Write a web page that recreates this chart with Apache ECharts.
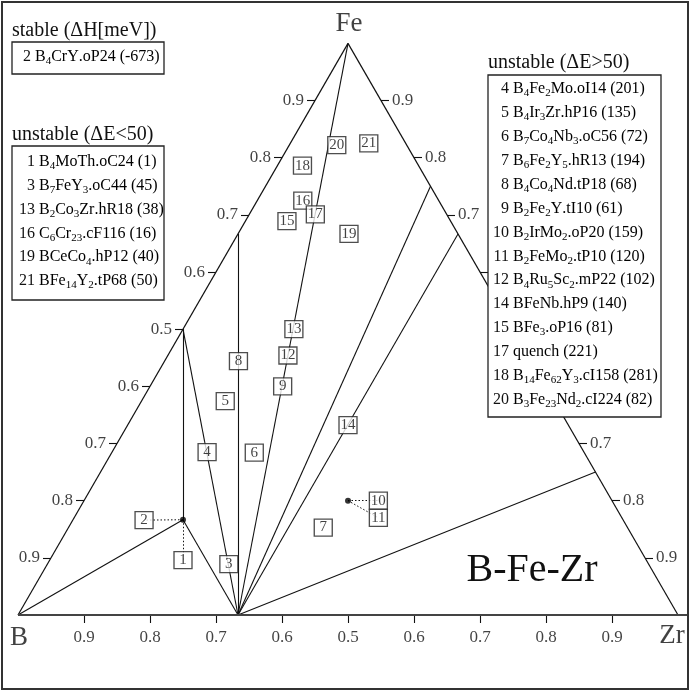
<!DOCTYPE html>
<html><head><meta charset="utf-8">
<script src="https://cdn.jsdelivr.net/npm/echarts@6/dist/echarts.min.js"></script>
<style>html,body{margin:0;padding:0;background:#fff}#c{width:692px;height:692px}</style>
</head><body><div id="c"></div>
<script>
const FONT = '"Liberation Serif","Times New Roman",serif';

// ---- data: compositions as [x_Fe, x_Zr] (x_B = rest) ----
const compoundNames = ['B','Fe','Zr','ZrB2','FeB','Fe2B','B4FeZr','Fe3Zr','Fe2Zr','FeZr3','B2FeZr2'];
const compoundFe    = [0, 1, 0, 0, 0.5, 2/3, 1/6, 0.75, 2/3, 0.25, 0.2];
const compoundZr    = [0, 0, 1, 1/3, 0, 0, 1/6, 0.25, 1/3, 0.75, 0.4];

const tieLines = [['B','B4FeZr'],['B4FeZr','ZrB2'],['B4FeZr','FeB'],['FeB','ZrB2'],['Fe2B','ZrB2'],
                  ['Fe','ZrB2'],['Fe3Zr','ZrB2'],['Fe2Zr','ZrB2'],['FeZr3','ZrB2']];
const edges = [['B','Fe'],['Fe','Zr'],['B','Zr']];
const dots = ['B4FeZr','B2FeZr2'];

// numbered label boxes (positions as compositions)
const boxIds = [1,2,3,4,5,6,7,8,9,10,11,12,13,14,15,16,17,18,19,20,21];
const boxFe  = [0.096,0.166,0.089,0.285,0.374,0.284,0.153,0.444,0.400,0.200,0.170,0.454,0.500,0.332,0.689,0.725,0.701,0.786,0.667,0.822,0.825];
const boxZr  = [0.202,0.108,0.275,0.144,0.127,0.216,0.386,0.112,0.201,0.446,0.461,0.182,0.168,0.334,0.063,0.069,0.100,0.038,0.168,0.072,0.119];
const leaders = [['B4FeZr',2],['B4FeZr',1],['B2FeZr2',10],['B2FeZr2',11]];

const edgeFractions = [0.1,0.2,0.3,0.4,0.5,0.6,0.7,0.8,0.9];
const tickLabels = ['0.9','0.8','0.7','0.6','0.5','0.6','0.7','0.8','0.9'];

const stableTitle = 'stable (ΔH[meV])';
const stableEntries = [['2','B4CrY.oP24','-673']];
const lowTitle = 'unstable (ΔE<50)';
const lowEntries = [['1','B4MoTh.oC24','1'],['3','B7FeY3.oC44','45'],['13','B2Co3Zr.hR18','38'],
  ['16','C6Cr23.cF116','16'],['19','BCeCo4.hP12','40'],['21','BFe14Y2.tP68','50']];
const highTitle = 'unstable (ΔE>50)';
const highEntries = [['4','B4Fe2Mo.oI14','201'],['5','B4Ir3Zr.hP16','135'],['6','B7Co4Nb3.oC56','72'],
  ['7','B6Fe2Y5.hR13','194'],['8','B4Co4Nd.tP18','68'],['9','B2Fe2Y.tI10','61'],['10','B2IrMo2.oP20','159'],
  ['11','B2FeMo2.tP10','120'],['12','B4Ru5Sc2.mP22','102'],['14','BFeNb.hP9','140'],['15','BFe3.oP16','81'],
  ['17','quench','221'],['18','B14Fe62Y3.cI158','281'],['20','B3Fe23Nd2.cI224','82']];

// ---- geometry helpers ----
const S3 = Math.sqrt(3)/2;
const PX = 1/660;
function xy(fe, zr){ return [zr + fe/2, fe*S3]; }
function comp(name){ const i = compoundNames.indexOf(name); return xy(compoundFe[i], compoundZr[i]); }
function boxPos(id){ const i = boxIds.indexOf(id); return xy(boxFe[i], boxZr[i]); }

const edgeData = edges.map(e => ({coords:[comp(e[0]), comp(e[1])]}));
const tieData = tieLines.map(e => ({coords:[comp(e[0]), comp(e[1])]}));
const leaderData = leaders.map(l => ({coords:[comp(l[0]), boxPos(l[1])]}));

const tickData = [], tickLabelData = [];
edgeFractions.forEach((f,i) => {
  const b = xy(0,f), be = [b[0], b[1]-8*PX];
  tickData.push({coords:[b,be]});
  tickLabelData.push({name:tickLabels[i], value:be, label:{position:'bottom', distance:6}});
  const l = xy(f,0), le = [l[0]-8*PX, l[1]];
  tickData.push({coords:[l,le]});
  tickLabelData.push({name:tickLabels[i], value:le, label:{position:'left', distance:3}});
  const r = xy(f,1-f), re = [r[0]+8*PX, r[1]];
  tickData.push({coords:[r,re]});
  tickLabelData.push({name:tickLabels[i], value:re, label:{position:'right', distance:3}});
});

const vertexData = [
  {name:'B', value:comp('B'), label:{position:'bottom', distance:9, offset:[1,0]}},
  {name:'Fe', value:comp('Fe'), label:{position:'top', distance:6, offset:[1,0]}},
  {name:'Zr', value:comp('Zr'), label:{position:'bottom', distance:7, offset:[-6,0]}}
];

// ---- legends ----
const rich = {
  n:{fontSize:16, fontFamily:FONT, color:'#111', lineHeight:20},
  s:{fontSize:11, fontFamily:FONT, color:'#111', lineHeight:11, verticalAlign:'bottom'}
};
function formulaRich(f){
  const k = f.indexOf('.');
  const head = k < 0 ? f : f.slice(0,k);
  const tail = k < 0 ? '' : f.slice(k);
  const parts = head.split(/(\d+)/).filter(p => p.length);
  return parts.map(p => /^\d+$/.test(p) ? '{s|'+p+'}' : '{n|'+p+'}').join('') + (tail ? '{n|'+tail+'}' : '');
}
const graphics = [];
function legend(title, entries, x, titleY, boxY, boxW, boxH, numRight, textLeft, firstY, step){
  graphics.push({type:'text', z:100, left:x, top:titleY-12, style:{text:title, font:'20px '+FONT, fill:'#111'}});
  graphics.push({type:'rect', z:100, shape:{x:x, y:boxY, width:boxW, height:boxH},
    style:{fill:'#fff', stroke:'#222', lineWidth:1.3}});
  entries.forEach((e,i) => {
    const y = firstY + i*step;
    graphics.push({type:'text', z:101, x:numRight, y:y,
      style:{text:e[0], font:'16px '+FONT, fill:'#111', align:'right', verticalAlign:'middle'}});
    graphics.push({type:'text', z:101, x:textLeft, y:y,
      style:{text:formulaRich(e[1]) + '{n| ('+e[2]+')}', rich:rich, align:'left', verticalAlign:'middle'}});
  });
}
legend(stableTitle, stableEntries, 12, 33, 42, 152, 32, 31, 35, 57, 24);
legend(lowTitle, lowEntries, 12, 137, 146, 152, 154, 35, 39, 162, 23.8);
legend(highTitle, highEntries, 488, 65, 75, 173, 342, 509, 513, 89, 23.9);

graphics.push({type:'text', z:50, x:532, y:570,
  style:{text:'B-Fe-Zr', font:'40px '+FONT, fill:'#111', align:'center', verticalAlign:'middle'}});
graphics.push({type:'rect', z:200, shape:{x:2, y:2, width:686, height:687},
  style:{fill:'none', stroke:'#333', lineWidth:2}});

const chart = echarts.init(document.getElementById('c'), null, {renderer:'canvas'});
chart.setOption({
  animation:false,
  backgroundColor:'#fff',
  grid:{left:0, right:0, top:0, bottom:0},
  xAxis:{type:'value', min:-18/660, max:674/660, show:false},
  yAxis:{type:'value', min:-77/660, max:615/660, show:false},
  graphic:graphics,
  series:[
    {type:'lines', coordinateSystem:'cartesian2d', z:2, silent:true, data:tieData,
      lineStyle:{color:'#111', width:1.1, opacity:1}},
    {type:'lines', coordinateSystem:'cartesian2d', z:2, silent:true, data:edgeData,
      lineStyle:{color:'#111', width:1.2, opacity:1}},
    {type:'lines', coordinateSystem:'cartesian2d', z:3, silent:true,
      data:[{coords:[comp('B'), [669/660, 0]]}], lineStyle:{color:'#444', width:2, opacity:1}},
    {type:'lines', coordinateSystem:'cartesian2d', z:2, silent:true, data:tickData,
      lineStyle:{color:'#111', width:1.1, opacity:1}},
    {type:'lines', coordinateSystem:'cartesian2d', z:2, silent:true, data:leaderData,
      lineStyle:{color:'#111', width:1, type:[1.5,2], opacity:1}},
    {type:'scatter', z:4, silent:true, symbolSize:0, data:tickLabelData,
      label:{show:true, formatter:'{b}', fontFamily:FONT, fontSize:17, color:'#111'}},
    {type:'scatter', z:4, silent:true, symbolSize:0, data:vertexData,
      label:{show:true, formatter:'{b}', fontFamily:FONT, fontSize:27, color:'#111'}},
    {type:'scatter', z:6, silent:true, symbol:'circle', symbolSize:6,
      data:dots.map(d => comp(d)), itemStyle:{color:'#000'}},
    {type:'scatter', z:8, silent:true, symbol:'rect', symbolSize:[18,17],
      data:boxIds.map(id => ({name:String(id), value:boxPos(id)})),
      itemStyle:{color:'#fff', borderColor:'#222', borderWidth:1.3},
      label:{show:true, position:'inside', formatter:'{b}', fontFamily:FONT, fontSize:15, color:'#111'}}
  ]
});
</script></body></html>
